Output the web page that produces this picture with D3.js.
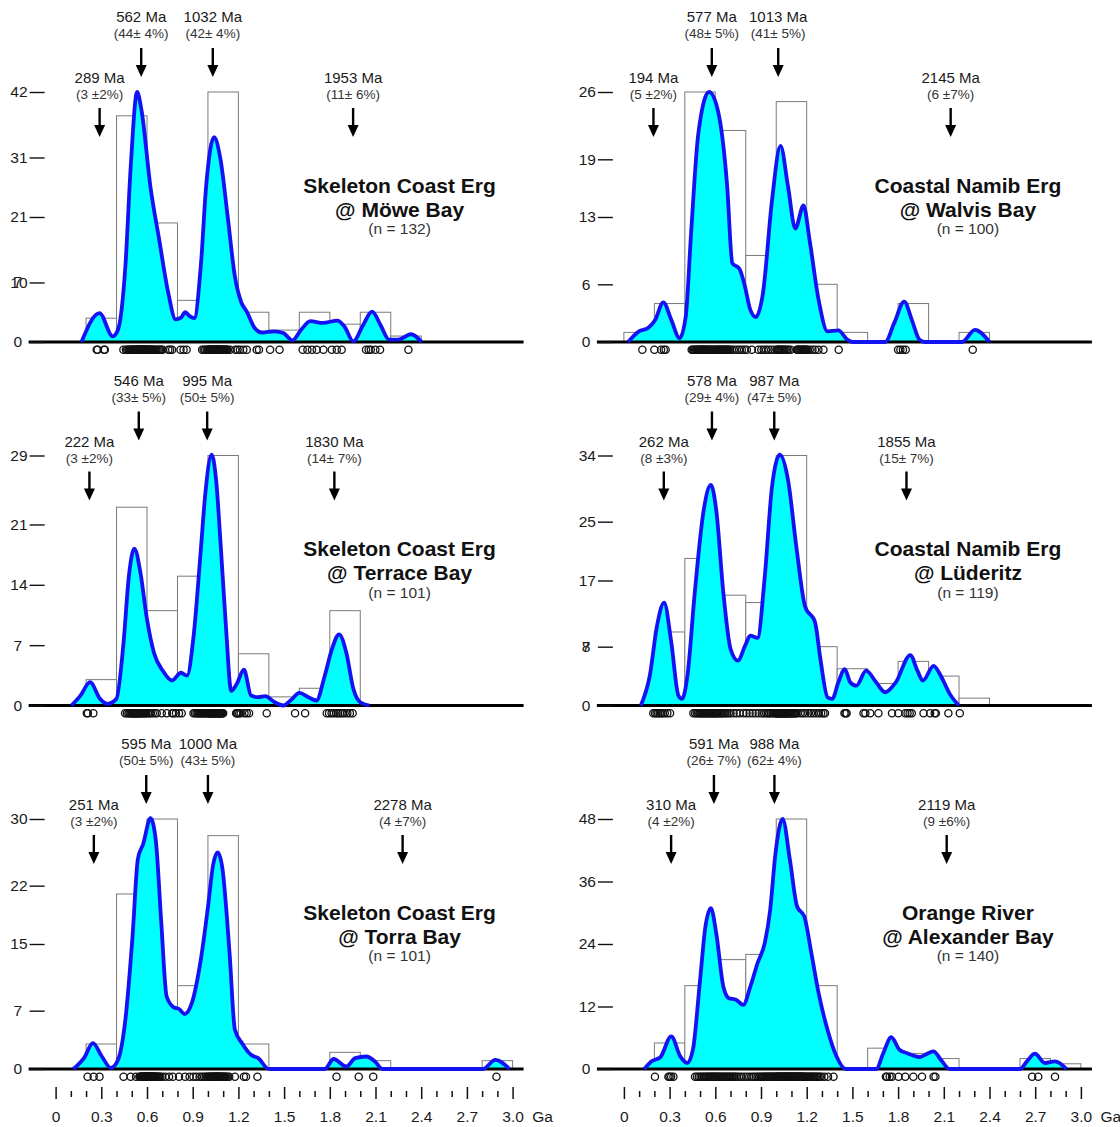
<!DOCTYPE html>
<html>
<head>
<meta charset="utf-8">
<script src="https://cdn.jsdelivr.net/npm/d3@7"></script>
<style>
  body { margin: 0; background: #fff; }
  svg { display: block; font-family: "Liberation Sans", Arial, sans-serif; }
</style>
</head>
<body>
<svg id="chart"></svg>
<script>
// Histogram bins (Ga), 0.2 Ga wide
const binStarts = [0, 0.2, 0.4, 0.6, 0.8, 1.0, 1.2, 1.4, 1.6, 1.8, 2.0, 2.2, 2.4, 2.6, 2.8];
const binWidth = 0.2;

// Bottom axis ticks (Ga)
const majorTicks = [0, 0.3, 0.6, 0.9, 1.2, 1.5, 1.8, 2.1, 2.4, 2.7, 3.0];
const minorTicks = [0.1, 0.2, 0.4, 0.5, 0.7, 0.8, 1.0, 1.1, 1.3, 1.4, 1.6, 1.7, 1.9, 2.0, 2.2, 2.3, 2.5, 2.6, 2.8, 2.9];

// Panel titles and sample sizes (top-left, top-right, middle-left, middle-right, bottom-left, bottom-right)
const panelTitles = [
  ["Skeleton Coast Erg", "@ Möwe Bay"],
  ["Coastal Namib Erg", "@ Walvis Bay"],
  ["Skeleton Coast Erg", "@ Terrace Bay"],
  ["Coastal Namib Erg", "@ Lüderitz"],
  ["Skeleton Coast Erg", "@ Torra Bay"],
  ["Orange River", "@ Alexander Bay"]
];
const sampleSizes = [132, 100, 101, 119, 101, 140];

// ---- Möwe Bay ----
const moweCounts = [0, 4, 38, 20, 7, 42, 5, 2, 5, 3, 5, 1, 0, 0, 0];
const moweTicks = [0, 10, 21, 31, 42];
const moweKde = [[0.17,0],[0.288,4.86],[0.375,0.95],[0.41,2.1],[0.458,12.7],[0.493,29.4],[0.535,42],[0.564,38.9],[0.623,26],[0.68,17.2],[0.74,8.2],[0.788,3.8],[0.823,4.1],[0.851,5.0],[0.882,4.3],[0.91,4.0],[0.953,12.7],[0.988,26.1],[1.04,34.4],[1.083,30.6],[1.13,21],[1.177,11],[1.217,6.8],[1.255,5.1],[1.307,2.35],[1.354,1.6],[1.436,1.8],[1.495,1.5],[1.554,0.28],[1.613,2.1],[1.672,3.5],[1.755,3.2],[1.85,3.6],[1.896,2.6],[1.955,0.1],[2.014,2.6],[2.078,5.1],[2.132,2.9],[2.19,0.4],[2.25,0.4],[2.333,1.3],[2.403,0]];
const moweAges = [270, 276, 318, 323,
  445, 462, 470, 478, 484, 490, 495, 500, 505, 509, 513, 517, 521, 525, 529, 533, 536, 539, 542, 545,
  548, 551, 554, 557, 560, 563, 566, 569, 572, 575, 578, 581, 584, 587, 590, 593, 596, 599,
  603, 607, 611, 615, 620, 625, 630, 636, 642, 648, 655, 662, 670, 678, 686, 694, 702, 740, 752, 765,
  820, 840, 860, 962, 972, 982, 992,
  1001, 1004, 1008, 1011, 1014, 1017, 1020, 1023, 1027, 1030, 1033, 1036, 1039, 1042, 1046, 1049, 1052, 1055,
  1058, 1062, 1065, 1068, 1071, 1074, 1078, 1081, 1084, 1088, 1092, 1096, 1100, 1105, 1110, 1115, 1120, 1125,
  1130, 1145, 1180, 1195,
  1210, 1232, 1255, 1320, 1335, 1408, 1470, 1622, 1653, 1683, 1714, 1758, 1813, 1846, 1878,
  2038, 2055, 2069, 2099, 2130, 2316];
const mowePeaks = [[289, "(3 ±2%)", 0], [562, "(44± 4%)", 1], [1032, "(42± 4%)", 1], [1953, "(11± 6%)", 0]];

// ---- Walvis Bay ----
const waltCounts = [1, 4, 26, 22, 9, 25, 6, 1, 0, 4, 0, 1, 0, 0, 0];
const waltTicks = [0, 6, 13, 19, 26];
const waltKde = [[0.028,0],[0.099,1.1],[0.158,1.45],[0.205,2.3],[0.259,4.13],[0.311,2.3],[0.366,0.4],[0.406,2.65],[0.441,11.3],[0.488,21.6],[0.559,26],[0.618,24],[0.677,16.4],[0.712,8.2],[0.759,7.6],[0.795,5.75],[0.83,3.34],[0.866,2.6],[0.913,5.1],[0.972,14.7],[1.028,20.4],[1.078,16.1],[1.125,11.8],[1.179,14.2],[1.219,10.6],[1.278,4.4],[1.337,1.1],[1.408,1.2],[1.467,0.24],[1.50,0],[1.715,0],[1.774,1.96],[1.84,4.2],[1.89,2.3],[1.94,0.24],[1.974,0],[2.22,0],[2.304,1.27],[2.40,0]];
const waltAges = [121, 200, 244, 262, 274,
  445, 452, 460, 467, 474, 480, 486, 492, 497, 502, 507, 512, 517, 522, 527, 532, 538, 544, 550, 556, 562, 568, 575, 582, 590, 598,
  604, 610, 616, 622, 628, 634, 640, 646, 652, 658, 664, 670, 676, 682, 688, 695, 708, 722, 741, 757, 774, 790,
  807, 840, 883, 902, 918, 934, 950, 968, 988,
  1004, 1010, 1016, 1022, 1028, 1034, 1040, 1047, 1055, 1063, 1072, 1082, 1095, 1135, 1140, 1146, 1152, 1158, 1164, 1170, 1176, 1182, 1188, 1194, 1198,
  1205, 1220, 1238, 1255, 1277, 1310, 1410, 1800, 1815, 1832, 1850, 2290];
const waltPeaks = [[194, "(5 ±2%)", 0], [577, "(48± 5%)", 1], [1013, "(41± 5%)", 1], [2145, "(6 ±7%)", 0]];

// ---- Terrace Bay ----
const terrCounts = [0, 3, 23, 11, 15, 29, 6, 1, 2, 11, 0, 0, 0, 0, 0];
const terrTicks = [0, 7, 14, 21, 29];
const terrKde = [[0.104,0],[0.163,1.15],[0.226,2.7],[0.292,0.77],[0.34,0.2],[0.399,0.77],[0.446,7.3],[0.481,15],[0.517,18.2],[0.557,15.4],[0.6,10],[0.646,6.1],[0.705,4.0],[0.764,2.9],[0.823,3.8],[0.863,3.46],[0.906,8.07],[0.953,18],[0.983,24.6],[1.024,29.1],[1.054,26.1],[1.083,18.8],[1.118,9.2],[1.153,1.7],[1.189,2.5],[1.236,4.15],[1.283,1.15],[1.33,0.96],[1.377,1.08],[1.436,0.4],[1.495,0],[1.542,0.58],[1.601,1.46],[1.66,0.96],[1.712,0.58],[1.767,3.46],[1.814,6.53],[1.861,8.26],[1.908,6.15],[1.955,1.92],[2.0,0.38],[2.06,0]];
const terrAges = [205, 212, 248,
  456, 468, 478, 486, 492, 498, 503, 508, 513, 518, 523, 528, 533, 538, 543, 549, 555, 561, 567, 574, 581, 588, 595,
  605, 615, 625, 638, 653, 664, 697, 730, 765, 773, 790,
  810, 828, 905, 915, 925, 933, 940, 947, 954, 960, 966, 972, 978, 985, 993,
  1000, 1004, 1008, 1012, 1016, 1020, 1024, 1028, 1032, 1036, 1040, 1044, 1048, 1052, 1056, 1060, 1064, 1068,
  1072, 1076, 1080, 1084, 1088, 1092, 1096, 1100, 1185, 1190, 1195,
  1205, 1215, 1240, 1255, 1270, 1386, 1572, 1638, 1780,
  1795, 1812, 1826, 1843, 1855, 1868, 1882, 1897, 1915, 1932, 1950];
const terrPeaks = [[222, "(3 ±2%)", 0], [546, "(33± 5%)", 1], [995, "(50± 5%)", 1], [1830, "(14± 7%)", 0]];

// ---- Lüderitz ----
const ludeCounts = [0, 10, 20, 15, 14, 34, 8, 5, 3, 6, 4, 1, 0, 0, 0];
const ludeTicks = [0, 8, 17, 25, 34];
const ludeKde = [[0.111,0],[0.17,4.05],[0.217,10.8],[0.264,14],[0.311,8.6],[0.358,1.35],[0.382,0.9],[0.417,4.05],[0.465,15.3],[0.524,26.6],[0.571,30],[0.606,26.6],[0.653,15.3],[0.7,7.7],[0.748,6.1],[0.795,8.1],[0.83,9.5],[0.877,9.2],[0.925,17.6],[0.972,29.7],[1.024,34.1],[1.078,30.6],[1.132,21.6],[1.189,13.5],[1.255,11.3],[1.29,6.3],[1.337,1.13],[1.368,0.9],[1.408,3.15],[1.45,4.95],[1.486,3.15],[1.526,2.7],[1.59,4.73],[1.656,3.15],[1.715,1.8],[1.785,3.15],[1.88,6.85],[1.927,4.73],[1.962,3.38],[2.033,5.4],[2.08,4.05],[2.139,1.58],[2.198,0]];
const ludeAges = [193, 205, 215, 225, 235, 245, 255, 268, 285, 303,
  456, 468, 478, 487, 495, 503, 510, 517, 524, 531, 538, 545, 552, 559, 566, 573, 580, 587, 594, 599,
  604, 612, 620, 628, 636, 645, 655, 665, 676, 688, 700, 720, 740, 760, 785,
  805, 825, 845, 865, 885, 905, 920, 935, 945, 955, 965, 975, 985, 995,
  1000, 1004, 1008, 1012, 1016, 1020, 1024, 1028, 1032, 1036, 1040, 1044, 1048, 1052, 1056, 1060, 1064,
  1068, 1072, 1076, 1080, 1085, 1090, 1095, 1100, 1106, 1112, 1118, 1124, 1130, 1140, 1160, 1175, 1190,
  1210, 1228, 1245, 1262, 1280, 1295, 1310, 1320,
  1448, 1455, 1462, 1573, 1585, 1617, 1671, 1760, 1802, 1847, 1862, 1876, 1890, 1967,
  2010, 2040, 2048, 2130, 2205];
const ludePeaks = [[262, "(8 ±3%)", 0], [578, "(29± 4%)", 1], [987, "(47± 5%)", 1], [1855, "(15± 7%)", 0]];

// ---- Torra Bay ----
const torrCounts = [0, 3, 21, 30, 10, 28, 3, 0, 0, 2, 1, 0, 0, 0, 1];
const torrTicks = [0, 7, 15, 22, 30];
const torrKde = [[0.116,0],[0.186,1.3],[0.245,3.1],[0.304,1.5],[0.363,0.12],[0.41,1.1],[0.458,5.9],[0.505,15.9],[0.54,25.2],[0.575,27],[0.623,30.1],[0.658,27.4],[0.693,17.8],[0.729,8.7],[0.776,7.4],[0.811,7.2],[0.847,6.6],[0.894,7.9],[0.953,13.1],[1.0,19.4],[1.035,24.6],[1.064,26],[1.094,24.2],[1.142,13.9],[1.177,4.7],[1.224,3.1],[1.283,1.7],[1.33,1.3],[1.4,0],[1.767,0],[1.825,1.2],[1.908,0.3],[1.967,1.3],[2.038,1.5],[2.097,0.9],[2.144,0],[2.804,0],[2.887,1.1],[2.98,0]];
const torrAges = [210, 250, 288,
  446, 493, 528, 550, 555, 559, 563, 567, 571, 574, 577, 580, 583, 586, 588, 590, 592, 594, 596, 598, 599,
  601, 603, 605, 607, 609, 611, 613, 615, 617, 620, 623, 626, 629, 632, 635, 638, 642, 646, 650, 654,
  658, 663, 668, 674, 680, 688, 700, 720, 745, 770,
  810, 850, 880, 905, 925, 945, 960, 975, 985, 995,
  1002, 1008, 1014, 1020, 1025, 1030, 1035, 1040, 1044, 1048, 1052, 1056, 1060, 1064, 1068, 1072,
  1076, 1080, 1085, 1090, 1095, 1100, 1106, 1112, 1120, 1128, 1140, 1177,
  1236, 1250, 1325, 1844, 1990, 2085, 2894];
const torrPeaks = [[251, "(3 ±2%)", 0], [595, "(50± 5%)", 1], [1000, "(43± 5%)", 1], [2278, "(4 ±7%)", 0]];

// ---- Alexander Bay ----
const alexCounts = [0, 5, 16, 21, 22, 48, 16, 0, 4, 3, 2, 0, 0, 2, 1];
const alexTicks = [0, 12, 24, 36, 48];
const alexKde = [[0.134,0],[0.182,1.47],[0.24,2.3],[0.311,6.26],[0.37,2.43],[0.417,1.15],[0.453,3.7],[0.5,17.1],[0.535,27.3],[0.571,30.9],[0.606,26.1],[0.653,15.8],[0.689,13.6],[0.736,13.3],[0.783,12.3],[0.83,15.8],[0.877,20.3],[0.925,24.2],[0.96,30.5],[0.995,41.4],[1.042,48],[1.09,40.1],[1.137,31.2],[1.184,29.3],[1.231,22.2],[1.278,14.6],[1.337,7.5],[1.396,2.4],[1.455,0],[1.656,0],[1.703,3.07],[1.755,6.1],[1.809,3.7],[1.856,3.07],[1.939,2.3],[2.033,3.4],[2.08,1.8],[2.139,0],[2.6,0],[2.646,1.47],[2.698,2.94],[2.764,1.15],[2.83,1.47],[2.906,0]];
const alexAges = [204, 292, 300, 310, 325,
  467, 480, 492, 503, 513, 522, 531, 540, 548, 556, 564, 571, 578, 585, 592, 598,
  604, 611, 618, 626, 634, 642, 650, 658, 666, 674, 682, 690, 698, 706, 715, 724, 733, 742, 755, 770, 788,
  805, 822, 838, 852, 865, 877, 888, 898, 907, 915, 923, 930, 937, 944, 951, 958, 964, 970, 976, 982, 988, 995,
  1000, 1004, 1008, 1012, 1016, 1020, 1024, 1028, 1032, 1036, 1040, 1044, 1048, 1052, 1056, 1060, 1064, 1068,
  1072, 1076, 1080, 1084, 1088, 1092, 1096, 1100, 1104, 1108, 1112, 1116, 1120, 1124, 1128, 1132, 1136, 1140,
  1144, 1148, 1152, 1156, 1160, 1164, 1168, 1172, 1178, 1184, 1190, 1196,
  1203, 1210, 1217, 1224, 1231, 1238, 1245, 1252, 1260, 1268, 1277, 1286, 1296, 1316, 1340, 1376,
  1720, 1727, 1745, 1760, 1803, 1847, 1900, 1957, 2033, 2045, 2680, 2720, 2830];
const alexPeaks = [[310, "(4 ±2%)", 0], [591, "(26± 7%)", 1], [988, "(62± 4%)", 1], [2119, "(9 ±6%)", 0]];

// Stray tick glyph that overlaps a label in two panels: [panel index, tick value, text]
const strayLabels = [[0, 10, "7"], [3, 8, "7"]];

// Build panel table
const counts = [moweCounts, waltCounts, terrCounts, ludeCounts, torrCounts, alexCounts];
const yTicks = [moweTicks, waltTicks, terrTicks, ludeTicks, torrTicks, alexTicks];
const kdes = [moweKde, waltKde, terrKde, ludeKde, torrKde, alexKde];
const ages = [moweAges, waltAges, terrAges, ludeAges, torrAges, alexAges];
const peaks = [mowePeaks, waltPeaks, terrPeaks, ludePeaks, torrPeaks, alexPeaks];

const panels = panelTitles.map((t, i) => ({
  title: t,
  n: sampleSizes[i],
  counts: counts[i],
  ticks: yTicks[i],
  kde: kdes[i],
  ages: ages[i],
  peaks: peaks[i],
  col: i % 2,
  row: Math.floor(i / 2)
}));

// Layout
const svgWidth = 1120;
const svgHeight = 1127;
const originX = [55.6, 623.9]; // pixel of 0 Ga in each column
const plotWidth = 457; // 3 Ga
const firstBaseline = 342;
const rowStep = 363.5;
const plotHeight = 250;

const svg = d3.select("#chart").attr("width", svgWidth).attr("height", svgHeight);

function drawPanel(p, idx) {
  const x0 = originX[p.col];
  const base = firstBaseline + p.row * rowStep;
  const yMax = d3.max(p.ticks);

  const x = d3.scaleLinear().domain([0, 3]).range([x0, x0 + plotWidth]);
  const y = d3.scaleLinear().domain([0, yMax]).range([base, base - plotHeight]);

  const g = svg.append("g").attr("class", "panel");

  // Histogram outlines
  const bins = binStarts.map((s, i) => ({ start: s, count: p.counts[i] })).filter(d => d.count > 0);
  g.selectAll("rect.bin")
    .data(bins)
    .join("rect")
    .attr("class", "bin")
    .attr("x", d => x(d.start))
    .attr("width", x(binWidth) - x(0))
    .attr("y", d => y(d.count))
    .attr("height", d => base - y(d.count))
    .attr("fill", "#fff")
    .attr("stroke", "#7a7a7a")
    .attr("stroke-width", 1);

  // Probability density fill
  const area = d3.area()
    .x(d => x(d[0]))
    .y0(base)
    .y1(d => y(d[1]))
    .curve(d3.curveMonotoneX);
  g.append("path").datum(p.kde).attr("d", area).attr("fill", "#00ffff");

  // Baseline
  g.append("line")
    .attr("x1", x0 - 27)
    .attr("x2", x0 + 468)
    .attr("y1", base)
    .attr("y2", base)
    .attr("stroke", "#000")
    .attr("stroke-width", 3);

  // Density outline
  const line = d3.line()
    .x(d => x(d[0]))
    .y(d => y(d[1]))
    .curve(d3.curveMonotoneX);
  g.append("path")
    .datum(p.kde)
    .attr("d", line)
    .attr("fill", "none")
    .attr("stroke", "#1212f2")
    .attr("stroke-width", 3.8)
    .attr("stroke-linejoin", "round");

  // Y axis (dash ticks only)
  const yAxis = g.append("g")
    .attr("transform", `translate(${x0 - 11},0)`)
    .call(d3.axisLeft(y).tickValues(p.ticks).tickSize(15).tickPadding(2).tickFormat(d3.format("d")));
  yAxis.select(".domain").remove();
  yAxis.selectAll(".tick line").attr("stroke", "#111").attr("stroke-width", 1.4);
  yAxis.selectAll(".tick text")
    .attr("font-size", 15.5)
    .attr("font-family", "Liberation Sans, Arial, sans-serif")
    .attr("fill", "#1a1a1a")
    .attr("dx", d => (String(d).length === 1 ? -5.5 : 0));

  strayLabels.filter(s => s[0] === idx).forEach(s => {
    g.append("text")
      .attr("x", x0 - 11 - 17 - 5.5)
      .attr("y", y(s[1]))
      .attr("dy", "0.32em")
      .attr("text-anchor", "end")
      .attr("font-size", 15.5)
      .attr("fill", "#1a1a1a")
      .text(s[2]);
  });

  // Individual grain ages
  g.selectAll("circle.grain")
    .data(p.ages)
    .join("circle")
    .attr("class", "grain")
    .attr("cx", d => x(d / 1000))
    .attr("cy", base + 7.8)
    .attr("r", 3.6)
    .attr("fill", "none")
    .attr("stroke", "#111")
    .attr("stroke-width", 1.3);

  // Peak annotations
  const tiers = [
    { label: -259, pct: -243, top: -234, tip: -205 },
    { label: -320, pct: -304, top: -294, tip: -265 }
  ];
  p.peaks.forEach(([ma, pct, tier]) => {
    const t = tiers[tier];
    const px = x(ma / 1000);
    g.append("text")
      .attr("x", px)
      .attr("y", base + t.label)
      .attr("text-anchor", "middle")
      .attr("font-size", 15)
      .attr("fill", "#1a1a1a")
      .text(`${ma} Ma`);
    g.append("text")
      .attr("x", px)
      .attr("y", base + t.pct)
      .attr("text-anchor", "middle")
      .attr("font-size", 13.5)
      .attr("fill", "#333")
      .text(pct);
    g.append("line")
      .attr("x1", px)
      .attr("x2", px)
      .attr("y1", base + t.top)
      .attr("y2", base + t.tip - 8)
      .attr("stroke", "#000")
      .attr("stroke-width", 2.4);
    g.append("path")
      .attr("d", `M${px - 5.5},${base + t.tip - 12}L${px + 5.5},${base + t.tip - 12}L${px},${base + t.tip}Z`)
      .attr("fill", "#000");
  });

  // Title block
  const cx = x0 + 344;
  g.append("text")
    .attr("x", cx)
    .attr("y", base - 149.5)
    .attr("text-anchor", "middle")
    .attr("font-size", 21)
    .attr("font-weight", "bold")
    .attr("fill", "#111")
    .text(p.title[0]);
  g.append("text")
    .attr("x", cx)
    .attr("y", base - 125.5)
    .attr("text-anchor", "middle")
    .attr("font-size", 21)
    .attr("font-weight", "bold")
    .attr("fill", "#111")
    .text(p.title[1]);
  g.append("text")
    .attr("x", cx)
    .attr("y", base - 108)
    .attr("text-anchor", "middle")
    .attr("font-size", 15.5)
    .attr("fill", "#333")
    .text(`(n = ${p.n})`);

  // Bottom age axis only on the last row
  if (p.row === 2) {
    const axisTop = base + 18;
    const major = g.append("g")
      .attr("transform", `translate(0,${axisTop})`)
      .call(d3.axisBottom(x).tickValues(majorTicks).tickSize(12).tickPadding(12)
        .tickFormat(d => (d === 0 ? "0" : d3.format(".1f")(d))));
    major.select(".domain").remove();
    major.selectAll(".tick line").attr("stroke", "#111").attr("stroke-width", 1.5);
    major.selectAll(".tick text").attr("font-size", 15.5).attr("fill", "#1a1a1a")
      .attr("font-family", "Liberation Sans, Arial, sans-serif");

    const minor = g.append("g")
      .attr("transform", `translate(0,${axisTop + 4})`)
      .call(d3.axisBottom(x).tickValues(minorTicks).tickSize(6).tickFormat(""));
    minor.select(".domain").remove();
    minor.selectAll(".tick line").attr("stroke", "#111").attr("stroke-width", 1.5);

    g.append("text")
      .attr("x", x(3.0) + 30)
      .attr("y", axisTop + 35)
      .attr("text-anchor", "middle")
      .attr("font-size", 15.5)
      .attr("fill", "#1a1a1a")
      .text("Ga");
  }
}

panels.forEach((p, i) => drawPanel(p, i));
</script>
</body>
</html>
